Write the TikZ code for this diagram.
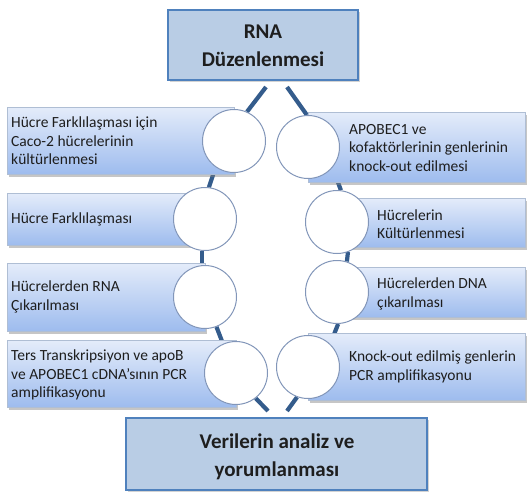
\documentclass[tikz,border=0pt]{standalone}
\usepackage{fontspec}
\setmainfont{Carlito}
\usetikzlibrary{shadows}
\pgfdeclarelayer{bg}
\pgfsetlayers{bg,main}
\definecolor{titlefill}{RGB}{185,205,229}
\definecolor{titledraw}{RGB}{79,129,189}
\definecolor{conncol}{RGB}{52,92,140}
\definecolor{boxtop}{RGB}{228,236,250}
\definecolor{boxbot}{RGB}{158,188,238}
\definecolor{boxdraw}{RGB}{175,190,212}
\definecolor{circdraw}{RGB}{130,150,185}
\definecolor{textcol}{RGB}{30,30,30}
\begin{document}
\begin{tikzpicture}[x=1pt,y=-1pt,
  titlebox/.style={rectangle, draw=titledraw, line width=2.2pt, fill=titlefill, inner sep=0,
    drop shadow={shadow xshift=1.5pt, shadow yshift=-2pt, opacity=0.35}},
  stepbox/.style={rectangle, draw=boxdraw, line width=0.6pt, top color=boxtop, bottom color=boxbot, inner sep=0,
    drop shadow={shadow xshift=1.5pt, shadow yshift=-2.5pt, opacity=0.45}},
  ring/.style={circle, draw=circdraw, line width=1pt, fill=white, minimum size=63pt, inner sep=0},
  conn/.style={draw=conncol, line width=4.2pt},
  lbl/.style={anchor=west, align=left, font=\fontsize{15.5}{18.5}\selectfont, text=textcol, inner sep=0},
  ttl/.style={align=center, font=\bfseries\fontsize{21}{28.5}\selectfont, text=textcol, inner sep=0}]
\useasboundingbox (0,0) rectangle (529,503);

% title boxes
\node[titlebox, minimum width=190pt, minimum height=70pt] (top) at (263,45) {};
\node[ttl] (toptext) at (263,46) {RNA\\Düzenlenmesi};
\node[titlebox, minimum width=301pt, minimum height=72pt] (bot) at (276.5,454) {};
\node[ttl] (bottext) at (277,457) {Verilerin analiz ve\\yorumlanması};

% left boxes
\node[stepbox, minimum width=227pt, minimum height=67pt] (L1b) at (120.5,140.5) {};
\node[stepbox, minimum width=198pt, minimum height=52pt] (L2b) at (106,219) {};
\node[stepbox, minimum width=198pt, minimum height=68pt] (L3b) at (106,297) {};
\node[stepbox, minimum width=229pt, minimum height=67pt] (L4b) at (121.5,373.5) {};
% right boxes
\node[stepbox, minimum width=217pt, minimum height=70pt] (R1b) at (416.5,147) {};
\node[stepbox, minimum width=188pt, minimum height=49pt] (R2b) at (431,222.5) {};
\node[stepbox, minimum width=188pt, minimum height=50pt] (R3b) at (431,292) {};
\node[stepbox, minimum width=217pt, minimum height=67pt] (R4b) at (416.5,366.5) {};

% labels
\node[lbl] (L1t) at (11,141) {Hücre Farklılaşması için\\Caco-2 hücrelerinin\\kültürlenmesi};
\node[lbl] (L2t) at (11,219) {Hücre Farklılaşması};
\node[lbl] (L3t) at (11,297) {Hücrelerden RNA\\Çıkarılması};
\node[lbl] (L4t) at (11,375) {Ters Transkripsiyon ve apoB\\ve APOBEC1 cDNA'sının PCR\\amplifikasyonu};
\node[lbl] (R1t) at (349,148) {APOBEC1 ve\\kofaktörlerinin genlerinin\\knock-out edilmesi};
\node[lbl] (R2t) at (377,224) {Hücrelerin\\Kültürlenmesi};
\node[lbl] (R3t) at (377,294) {Hücrelerden DNA\\çıkarılması};
\node[lbl] (R4t) at (349,367) {Knock-out edilmiş genlerin\\PCR amplifikasyonu};

% circles
\node[ring] (L1) at (234,141) {};
\node[ring] (L2) at (205,219) {};
\node[ring] (L3) at (205,297) {};
\node[ring] (L4) at (236,373) {};
\node[ring] (R1) at (308,147) {};
\node[ring] (R2) at (337,222) {};
\node[ring] (R3) at (337,292) {};
\node[ring] (R4) at (308,367) {};

\coordinate (tl) at (266,87);
\coordinate (tr) at (287,87);
\coordinate (bl) at (268,411);
\coordinate (br) at (287,411);

\begin{pgfonlayer}{bg}
\draw[conn] (tl) -- (L1.66);
\draw[conn] (L1.235) -- (L2.83);
\draw[conn] (L2.265) -- (L3.95);
\draw[conn] (L3.291) -- (L4.114);
\draw[conn] (L4.308) -- (bl);
\draw[conn] (tr) -- (R1.92);
\draw[conn] (R1.320) -- (R2.83);
\draw[conn] (R2.290) -- (R3.72);
\draw[conn] (R3.272) -- (R4.46);
\draw[conn] (R4.250) -- (br);
\end{pgfonlayer}
\end{tikzpicture}
\end{document}
